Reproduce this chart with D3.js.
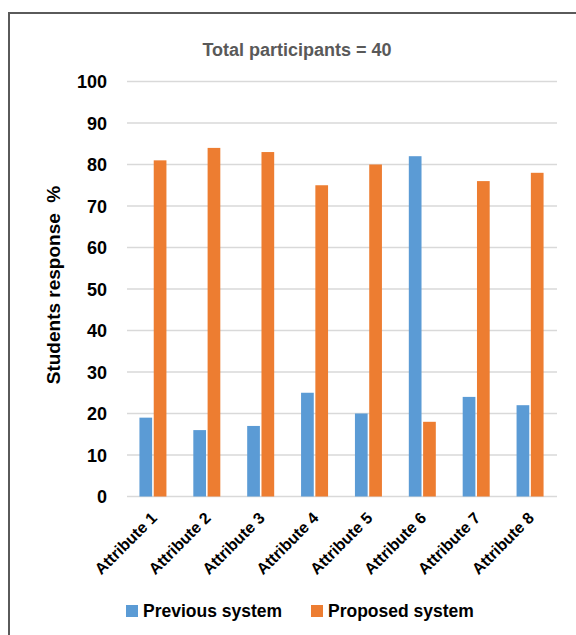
<!DOCTYPE html>
<html>
<head>
<meta charset="utf-8">
<script src="https://cdn.jsdelivr.net/npm/d3@7"></script>
<style>
  html, body { margin: 0; padding: 0; background: #fff; }
  svg { display: block; font-family: "Liberation Sans", Arial, sans-serif; }
</style>
</head>
<body>
<svg id="chart" width="576" height="635"></svg>
<script>
// Survey results per attribute
const categories = ["Attribute 1", "Attribute 2", "Attribute 3", "Attribute 4",
                    "Attribute 5", "Attribute 6", "Attribute 7", "Attribute 8"];
const previousSystem = [19, 16, 17, 25, 20, 82, 24, 22];
const proposedSystem = [81, 84, 83, 75, 80, 18, 76, 78];
const seriesNames = ["Previous system", "Proposed system"];
const seriesColors = ["#5b9bd5", "#ed7d31"];
const yTicks = [0, 10, 20, 30, 40, 50, 60, 70, 80, 90, 100];
const chartTitle = "Total participants = 40";
const yTitle = "Students response  %";

const svg = d3.select("#chart");

// outer frame (top and left edges)
svg.append("path")
  .attr("d", "M9,635 V13 H576")
  .attr("fill", "none")
  .attr("stroke", "#5a5a5a")
  .attr("stroke-width", 2);

const plotLeft = 126, plotRight = 557;
const y = d3.scaleLinear().domain([0, 100]).range([496.5, 81.5]);
const x = d3.scaleBand().domain(categories).range([plotLeft, plotRight]);

const barW = 12, barGap = 3;
const xs = d3.scaleBand().domain(seriesNames)
  .range([-(barW + barGap / 2), barW + barGap / 2])
  .paddingInner(barGap / (2 * barW + barGap));

// gridlines
svg.append("g").selectAll("line").data(yTicks).join("line")
  .attr("x1", plotLeft + 1).attr("x2", plotRight)
  .attr("y1", d => y(d)).attr("y2", d => y(d))
  .attr("stroke", "#d9d9d9").attr("stroke-width", 1.5);

// y axis tick labels
const yAxis = d3.axisLeft(y).tickValues(yTicks).tickSize(0).tickPadding(0);
const yg = svg.append("g").attr("transform", "translate(107,0)").call(yAxis);
yg.select(".domain").remove();
yg.selectAll("text")
  .attr("font-family", "'Liberation Sans', Arial, sans-serif")
  .attr("font-size", 18).attr("font-weight", "bold").attr("fill", "#000")
  .attr("dy", "0.36em");

// bars
const series = [previousSystem, proposedSystem];
series.forEach((vals, si) => {
  svg.append("g").selectAll("rect").data(vals).join("rect")
    .attr("x", (d, i) => x(categories[i]) + x.bandwidth() / 2 + xs(seriesNames[si]))
    .attr("width", xs.bandwidth())
    .attr("y", d => y(d))
    .attr("height", d => y(0) - y(d))
    .attr("fill", seriesColors[si]);
});

// category labels, rotated
svg.append("g").selectAll("text").data(categories).join("text")
  .attr("transform", d => `translate(${x(d) + x.bandwidth() / 2 + 5},519) rotate(-45)`)
  .attr("text-anchor", "end")
  .attr("font-size", 16).attr("font-weight", "bold").attr("fill", "#000")
  .text(d => d);

// title
svg.append("text")
  .attr("x", 297).attr("y", 56)
  .attr("text-anchor", "middle")
  .attr("font-size", 18).attr("font-weight", "bold").attr("fill", "#595959")
  .text(chartTitle);

// y axis title
svg.append("text")
  .attr("transform", "translate(60,285) rotate(-90)")
  .attr("text-anchor", "middle")
  .attr("font-size", 19).attr("font-weight", "bold").attr("fill", "#000")
  .attr("xml:space", "preserve")
  .style("white-space", "pre")
  .text(yTitle);

// legend
const legendPos = [126, 311];
const lg = svg.append("g").selectAll("g").data(seriesNames).join("g")
  .attr("transform", (d, i) => `translate(${legendPos[i]},605)`);
lg.append("rect").attr("width", 12).attr("height", 12)
  .attr("fill", (d, i) => seriesColors[i]);
lg.append("text").attr("x", 17).attr("y", 12)
  .attr("font-size", 17.5).attr("font-weight", "bold").attr("fill", "#000")
  .text(d => d);
</script>
</body>
</html>
